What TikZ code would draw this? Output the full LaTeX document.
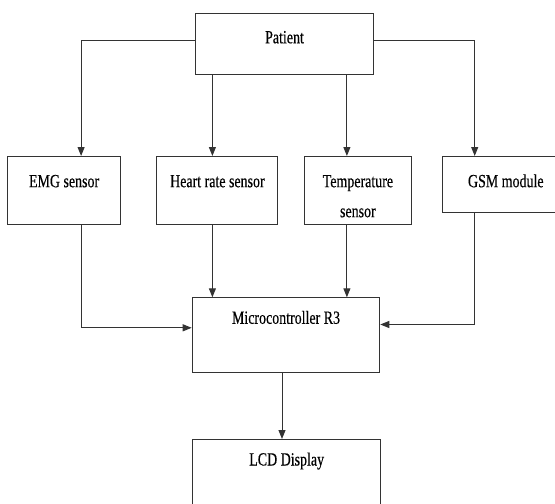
\documentclass[tikz,border=0pt]{standalone}
\usepackage{fontspec}
\setmainfont[FakeStretch=0.75,FakeBold=0.3]{Liberation Serif}
\usetikzlibrary{calc,arrows.meta}
\tikzset{
	blk/.style={draw=black!80, line width=1pt, inner sep=0pt, anchor=north, font=\fontsize{18.6}{30}\selectfont},
	wire/.style={draw=black!80, line width=1pt},
	arr/.style={wire, -{Triangle[length=9pt,width=7pt]}}
}

\begin{document}
\begin{tikzpicture}[x=1pt, y=-1pt]
		%%%%% START %%%%%
		
		\useasboundingbox (0, 0) rectangle (555, 504);
		
		\node[blk, minimum width=178pt, text height=29.5pt, text depth=31.5pt] (patient) at (284.5, 13.3) {Patient};
		
		\node[blk, minimum width=112.6pt, text height=30.7pt, text depth=37.3pt] (emg) at (64.1, 156) {EMG sensor};
		\node[blk, minimum width=121.1pt, text height=30.7pt, text depth=37.3pt] (heart) at (217.4, 156) {Heart rate sensor};
		\node[blk, text width=106.9pt, align=center, text height=30.7pt, text depth=37.3pt] (temp) at (357.9, 156) {Temperature\\sensor};
		% right side runs off the page
		\node[blk, minimum width=126pt, text height=30.7pt, text depth=25.3pt] (gsm) at (505.8, 156) {GSM module\hspace{12.4pt}};
		
		\node[blk, minimum width=187.6pt, text height=26pt, text depth=49pt] (micro) at (286, 297.3) {Microcontroller R3};
		\node[blk, minimum width=187.5pt, text height=26pt, text depth=60pt] (lcd) at (286.7, 439) {LCD Display};
		
		\coordinate (emg in) at ($(emg.north)+(17, 0)$);
		\coordinate (heart in) at ($(heart.north)+(-5, 0)$);
		\coordinate (temp in) at ($(temp.north)+(-11, 0)$);
		\coordinate (gsm in) at (474.7, 156);
		
		\draw[arr] ([yshift=3.8pt]patient.west) -| (emg in);
		\draw[arr] (patient.south -| heart in) -- (heart in);
		\draw[arr] (patient.south -| temp in) -- (temp in);
		\draw[arr] ([yshift=3.8pt]patient.east) -| (gsm in);
		
		\draw[arr] (emg.south -| emg in) |- ([yshift=7.5pt]micro.west);
		\draw[arr] (heart.south -| heart in) -- (micro.north -| heart in);
		\draw[arr] (temp.south -| temp in) -- (micro.north -| temp in);
		\draw[arr] (gsm.south -| gsm in) |- ([yshift=10.8pt]micro.east);
		
		\draw[arr] ([xshift=-4pt]micro.south) -- ([xshift=-4pt]micro.south |- lcd.north);
		
		%%%%% END %%%%%
\end{tikzpicture}
\end{document}
